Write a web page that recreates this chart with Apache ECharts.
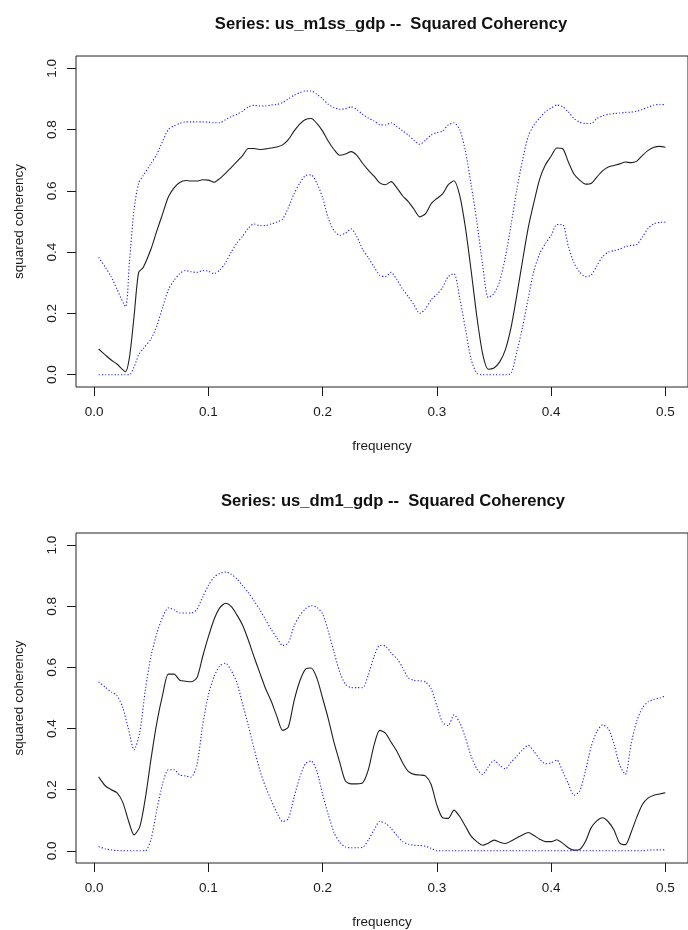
<!DOCTYPE html>
<html>
<head>
<meta charset="utf-8">
<title>Squared Coherency</title>
<script src="https://cdn.jsdelivr.net/npm/echarts@6/dist/echarts.min.js"></script>
<style>
  html, body { margin: 0; padding: 0; background: #ffffff; }
  #chart { width: 688px; height: 930px; }
</style>
</head>
<body>
<div id="chart"></div>
<script>
// ---- us_m1ss_gdp : squared coherency with upper / lower confidence bands ----
const freqA = [0.004, 0.01, 0.015, 0.02, 0.0275, 0.031, 0.035, 0.039, 0.043, 0.05,
  0.055, 0.06, 0.065, 0.07, 0.075, 0.08, 0.085, 0.09, 0.095, 0.1,
  0.105, 0.11, 0.115, 0.12, 0.125, 0.13, 0.135, 0.14, 0.145, 0.15,
  0.155, 0.16, 0.165, 0.17, 0.175, 0.18, 0.185, 0.19, 0.195, 0.2,
  0.205, 0.21, 0.215, 0.22, 0.225, 0.23, 0.235, 0.24, 0.245, 0.25,
  0.255, 0.26, 0.265, 0.27, 0.275, 0.28, 0.285, 0.29, 0.295, 0.3,
  0.305, 0.31, 0.315, 0.32, 0.325, 0.33, 0.335, 0.34, 0.345, 0.35,
  0.355, 0.36, 0.365, 0.37, 0.375, 0.38, 0.385, 0.39, 0.395, 0.4,
  0.405, 0.41, 0.415, 0.42, 0.425, 0.43, 0.435, 0.44, 0.445, 0.45,
  0.455, 0.46, 0.465, 0.47, 0.475, 0.48, 0.485, 0.49, 0.495, 0.5];

const cohA = [0.084, 0.064, 0.048, 0.035, 0.01, 0.057, 0.19, 0.334, 0.35, 0.412,
  0.47, 0.525, 0.58, 0.61, 0.627, 0.634, 0.632, 0.632, 0.636, 0.635,
  0.628, 0.64, 0.657, 0.676, 0.695, 0.715, 0.738, 0.738, 0.735, 0.737,
  0.74, 0.743, 0.75, 0.767, 0.795, 0.818, 0.833, 0.836, 0.82, 0.795,
  0.762, 0.735, 0.716, 0.72, 0.728, 0.716, 0.69, 0.668, 0.648, 0.626,
  0.62, 0.63, 0.61, 0.584, 0.565, 0.54, 0.515, 0.525, 0.558, 0.575,
  0.59, 0.62, 0.633, 0.585, 0.48, 0.34, 0.19, 0.07, 0.018, 0.022,
  0.042, 0.082, 0.155, 0.26, 0.372, 0.48, 0.563, 0.638, 0.685, 0.713,
  0.74, 0.738, 0.695, 0.655, 0.635, 0.622, 0.624, 0.645, 0.665, 0.678,
  0.683, 0.688, 0.694, 0.692, 0.697, 0.716, 0.732, 0.742, 0.745, 0.742];

const upperA = [0.383, 0.35, 0.32, 0.28, 0.222, 0.37, 0.54, 0.625, 0.65, 0.69,
  0.72, 0.762, 0.8, 0.812, 0.82, 0.825, 0.825, 0.825, 0.825, 0.824,
  0.822, 0.822, 0.832, 0.842, 0.85, 0.86, 0.874, 0.879, 0.877, 0.877,
  0.88, 0.882, 0.888, 0.9, 0.912, 0.92, 0.926, 0.926, 0.915, 0.9,
  0.882, 0.872, 0.866, 0.868, 0.874, 0.865, 0.85, 0.838, 0.828, 0.816,
  0.815, 0.822, 0.81, 0.796, 0.782, 0.765, 0.752, 0.765, 0.782, 0.79,
  0.795, 0.815, 0.822, 0.8, 0.73, 0.62, 0.5, 0.36, 0.252, 0.265,
  0.305, 0.385, 0.49, 0.605, 0.7, 0.778, 0.815, 0.838, 0.858, 0.87,
  0.88, 0.875, 0.858, 0.836, 0.824, 0.82, 0.82, 0.836, 0.845, 0.85,
  0.852, 0.854, 0.856, 0.857, 0.86, 0.866, 0.873, 0.88, 0.882, 0.881];

const lowerA = [0, 0, 0, 0, 0, 0, 0.025, 0.065, 0.085, 0.118,
  0.16, 0.22, 0.277, 0.308, 0.33, 0.34, 0.336, 0.334, 0.34, 0.338,
  0.33, 0.342, 0.365, 0.4, 0.43, 0.452, 0.478, 0.492, 0.486, 0.487,
  0.492, 0.498, 0.508, 0.545, 0.59, 0.625, 0.65, 0.652, 0.625, 0.578,
  0.51, 0.47, 0.455, 0.462, 0.476, 0.45, 0.41, 0.382, 0.352, 0.325,
  0.32, 0.334, 0.31, 0.28, 0.255, 0.228, 0.2, 0.215, 0.245, 0.262,
  0.285, 0.32, 0.33, 0.25, 0.15, 0.05, 0.005, 0, 0, 0,
  0, 0, 0.005, 0.075, 0.155, 0.25, 0.34, 0.395, 0.428, 0.455,
  0.49, 0.49, 0.42, 0.365, 0.335, 0.32, 0.325, 0.355, 0.385, 0.4,
  0.405, 0.41, 0.418, 0.422, 0.425, 0.45, 0.478, 0.493, 0.497, 0.498];

// ---- us_dm1_gdp : squared coherency with upper / lower confidence bands ----
const freqB = [0.004, 0.01, 0.015, 0.02, 0.025, 0.03, 0.035, 0.04, 0.045, 0.05,
  0.055, 0.06, 0.065, 0.07, 0.075, 0.08, 0.085, 0.09, 0.095, 0.1,
  0.105, 0.11, 0.115, 0.12, 0.125, 0.13, 0.135, 0.14, 0.145, 0.15,
  0.155, 0.16, 0.165, 0.17, 0.175, 0.18, 0.185, 0.19, 0.195, 0.2,
  0.205, 0.21, 0.215, 0.22, 0.225, 0.23, 0.235, 0.24, 0.245, 0.25,
  0.255, 0.26, 0.265, 0.27, 0.275, 0.28, 0.285, 0.29, 0.295, 0.3,
  0.305, 0.31, 0.315, 0.32, 0.325, 0.33, 0.335, 0.34, 0.345, 0.35,
  0.355, 0.36, 0.365, 0.37, 0.375, 0.38, 0.385, 0.39, 0.395, 0.4,
  0.405, 0.41, 0.415, 0.42, 0.425, 0.43, 0.435, 0.44, 0.445, 0.45,
  0.455, 0.46, 0.465, 0.47, 0.475, 0.48, 0.485, 0.49, 0.495, 0.5];

const cohB = [0.242, 0.212, 0.2, 0.19, 0.16, 0.1, 0.052, 0.078, 0.175, 0.304,
  0.42, 0.51, 0.578, 0.578, 0.558, 0.555, 0.553, 0.566, 0.635, 0.7,
  0.757, 0.795, 0.81, 0.8, 0.772, 0.738, 0.69, 0.635, 0.583, 0.532,
  0.49, 0.44, 0.394, 0.405, 0.49, 0.555, 0.594, 0.598, 0.565, 0.5,
  0.432, 0.355, 0.29, 0.228, 0.219, 0.219, 0.222, 0.265, 0.345, 0.394,
  0.385, 0.355, 0.326, 0.288, 0.26, 0.25, 0.248, 0.245, 0.217, 0.15,
  0.108, 0.106, 0.133, 0.112, 0.08, 0.048, 0.03, 0.018, 0.025, 0.035,
  0.028, 0.024, 0.032, 0.042, 0.052, 0.06, 0.05, 0.038, 0.03, 0.03,
  0.036, 0.025, 0.01, 0.002, 0.004, 0.03, 0.075, 0.098, 0.108, 0.095,
  0.068, 0.025, 0.02, 0.06, 0.11, 0.152, 0.173, 0.182, 0.186, 0.19];

const upperB = [0.553, 0.535, 0.52, 0.508, 0.47, 0.4, 0.33, 0.388, 0.53, 0.64,
  0.712, 0.765, 0.795, 0.789, 0.778, 0.778, 0.778, 0.79, 0.83, 0.868,
  0.895, 0.908, 0.912, 0.905, 0.89, 0.868, 0.845, 0.818, 0.79, 0.757,
  0.725, 0.697, 0.672, 0.68, 0.735, 0.77, 0.792, 0.802, 0.797, 0.775,
  0.718, 0.65, 0.585, 0.545, 0.534, 0.534, 0.534, 0.575, 0.635, 0.672,
  0.67, 0.648, 0.629, 0.6, 0.566, 0.558, 0.556, 0.553, 0.53, 0.475,
  0.42, 0.41, 0.445, 0.42, 0.37, 0.31, 0.268, 0.25, 0.275, 0.296,
  0.28, 0.268, 0.29, 0.31, 0.33, 0.345, 0.325, 0.3, 0.285, 0.288,
  0.297, 0.26, 0.22, 0.182, 0.195, 0.26, 0.34, 0.39, 0.412, 0.4,
  0.35, 0.28, 0.25, 0.35, 0.425, 0.468, 0.488, 0.495, 0.5, 0.507];

const lowerB = [0.014, 0.006, 0.003, 0.001, 0, 0, 0, 0, 0, 0.04,
  0.135, 0.22, 0.265, 0.265, 0.248, 0.245, 0.241, 0.28, 0.41, 0.51,
  0.57, 0.605, 0.614, 0.59, 0.55, 0.48, 0.41, 0.335, 0.265, 0.21,
  0.165, 0.125, 0.096, 0.105, 0.175, 0.24, 0.285, 0.294, 0.26, 0.185,
  0.118, 0.06, 0.028, 0.012, 0.01, 0.01, 0.011, 0.035, 0.068, 0.096,
  0.09, 0.073, 0.05, 0.03, 0.022, 0.018, 0.017, 0.015, 0.008, 0,
  0, 0, 0, 0, 0, 0, 0, 0, 0, 0,
  0, 0, 0, 0, 0, 0, 0, 0, 0, 0,
  0, 0, 0, 0, 0, 0, 0, 0, 0, 0,
  0, 0, 0, 0, 0, 0, 0.002, 0.003, 0.003, 0.003];

// axis ticks and labels
const xTicks = [0, 0.1, 0.2, 0.3, 0.4, 0.5];
const yTicks = [0, 0.2, 0.4, 0.6, 0.8, 1.0];

const titles = [
  'Series: us_m1ss_gdp --  Squared Coherency',
  'Series: us_dm1_gdp --  Squared Coherency'
];

const FONT = '"Liberation Sans", Arial, Helvetica, sans-serif';
const INK = '#1a1a1a';

function pairs(xs, ys) {
  return xs.map((x, i) => [x, ys[i]]);
}

function xAxisFor(idx) {
  return {
    type: 'value', gridIndex: idx, position: 'bottom',
    min: -0.0158, max: 0.5198,
    axisLine: { show: false, onZero: false },
    splitLine: { show: false },
    axisTick: { show: true, inside: false, customValues: xTicks, length: 9, lineStyle: { color: INK, width: 1 } },
    axisLabel: {
      customValues: xTicks, margin: 18, fontSize: 13.5, color: INK, fontFamily: FONT,
      formatter: v => v.toFixed(1)
    },
    name: 'frequency', nameLocation: 'middle', nameGap: 52,
    nameTextStyle: { fontSize: 13.5, color: INK, fontFamily: FONT }
  };
}

function yAxisFor(idx) {
  return {
    type: 'value', gridIndex: idx, position: 'left',
    min: -0.04, max: 1.04,
    axisLine: { show: false, onZero: false },
    splitLine: { show: false },
    axisTick: { show: true, inside: false, customValues: yTicks, length: 9, lineStyle: { color: INK, width: 1 } },
    axisLabel: {
      customValues: yTicks, margin: 17, rotate: 90, fontSize: 13.5, color: INK, fontFamily: FONT,
      formatter: v => v.toFixed(1)
    },
    name: 'squared coherency', nameLocation: 'middle', nameGap: 50,
    nameTextStyle: { fontSize: 13.5, color: INK, fontFamily: FONT }
  };
}

function lineSeries(idx, xs, ys, dotted) {
  return {
    type: 'line', xAxisIndex: idx, yAxisIndex: idx,
    data: pairs(xs, ys),
    showSymbol: false, symbol: 'none', smooth: 0.25,
    silent: true,
    lineStyle: dotted
      ? { color: '#1a1aff', width: 1.1, type: [1.2, 2] }
      : { color: '#1f1f1f', width: 1.1 }
  };
}

const chart = echarts.init(document.getElementById('chart'), null, { renderer: 'canvas' });

chart.setOption({
  animation: false,
  backgroundColor: '#ffffff',
  title: [
    { text: titles[0], left: 386, top: 11, textAlign: 'center',
      textStyle: { fontSize: 16.6, fontWeight: 'bold', color: '#111', fontFamily: FONT } },
    { text: titles[1], left: 388, top: 488, textAlign: 'center',
      textStyle: { fontSize: 16.6, fontWeight: 'bold', color: '#111', fontFamily: FONT } }
  ],
  grid: [
    { left: 76, top: 56, width: 621, height: 331, show: true, borderColor: '#222', borderWidth: 1, containLabel: false },
    { left: 76, top: 533, width: 623, height: 332, show: true, borderColor: '#222', borderWidth: 1, containLabel: false }
  ],
  xAxis: [xAxisFor(0), xAxisFor(1)],
  yAxis: [yAxisFor(0), yAxisFor(1)],
  series: [
    lineSeries(0, freqA, cohA, false),
    lineSeries(0, freqA, upperA, true),
    lineSeries(0, freqA, lowerA, true),
    lineSeries(1, freqB, cohB, false),
    lineSeries(1, freqB, upperB, true),
    lineSeries(1, freqB, lowerB, true)
  ]
});
</script>
</body>
</html>
